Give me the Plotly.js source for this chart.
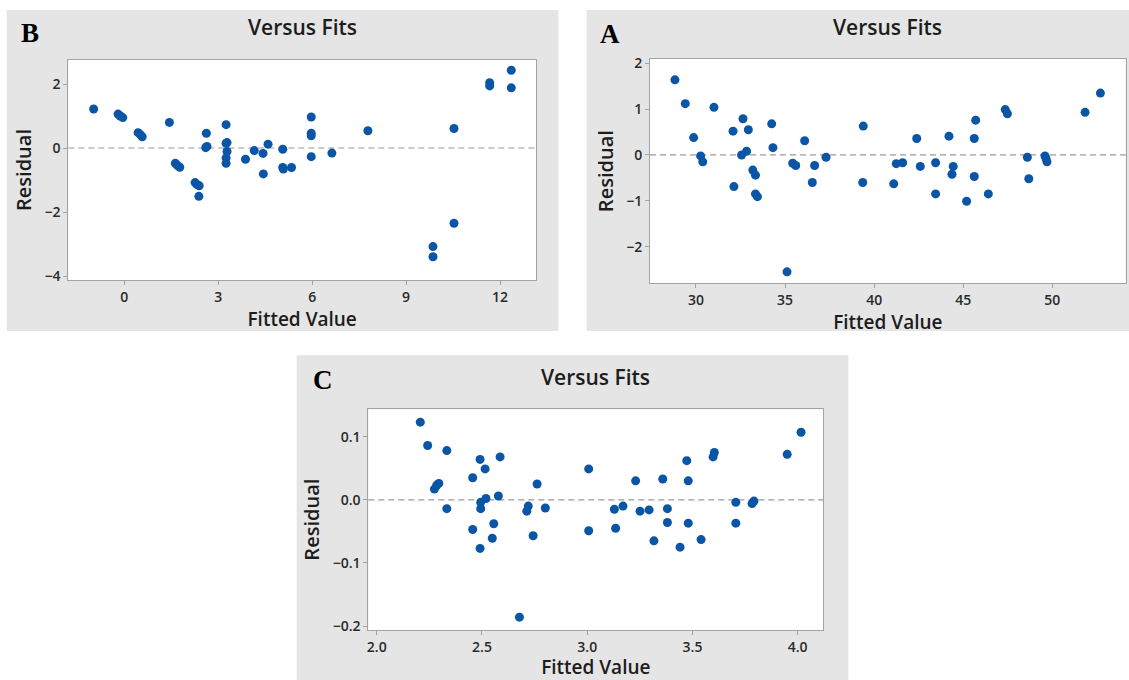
<!DOCTYPE html>
<html>
<head>
<meta charset="utf-8">
<script src="https://cdn.plot.ly/plotly-3.0.1.min.js"></script>
<style>
html,body{margin:0;padding:0;background:#ffffff;}
#chart{width:1129px;height:680px;}
</style>
</head>
<body>
<div id="chart"></div>
<script>
// ---- Panel B data ----
const bFitted = [-0.98, -0.20, -0.13, -0.05, 0.44, 0.51, 0.57, 1.44, 1.63, 1.70, 1.77,
  2.26, 2.32, 2.39, 2.38, 2.62, 2.60, 2.64, 3.25, 3.28, 3.25, 3.28, 3.25, 3.25,
  3.87, 4.15, 4.43, 4.59, 4.44, 5.06, 5.06, 5.08, 5.34, 5.97, 5.97, 5.97, 5.97,
  6.63, 7.78, 10.53, 10.53, 9.86, 9.86, 11.67, 11.67, 12.36, 12.36];
const bResidual = [1.22, 1.06, 1.00, 0.95, 0.48, 0.42, 0.35, 0.80, -0.48, -0.55, -0.60,
  -1.08, -1.14, -1.18, -1.51, 0.46, 0.01, 0.05, 0.73, 0.17, 0.15, -0.11, -0.31, -0.48,
  -0.35, -0.08, -0.17, 0.12, -0.81, -0.04, -0.61, -0.66, -0.61, 0.97, 0.46, 0.38, -0.27,
  -0.16, 0.54, 0.61, -2.35, -3.08, -3.40, 2.04, 1.94, 2.43, 1.88];
const bXTicks = [0, 3, 6, 9, 12];
const bYTicks = [-4, -2, 0, 2];

// ---- Panel A data ----
const aFitted = [28.82, 29.40, 31.01, 29.87, 30.26, 30.38, 32.08, 32.13, 32.64, 32.94,
  32.56, 32.84, 33.19, 33.34, 33.34, 33.45, 34.25, 34.32, 35.11, 35.43, 35.60, 36.10,
  36.53, 36.66, 37.30, 39.39, 39.36, 41.10, 41.24, 41.60, 42.39, 42.59, 43.45, 43.45,
  44.20, 44.44, 44.37, 45.19, 45.70, 45.62, 45.62, 46.41, 47.36, 47.48, 48.60, 48.68,
  49.59, 49.65, 49.70, 51.84, 52.70];
const aResidual = [1.64, 1.12, 1.04, 0.38, -0.02, -0.15, 0.52, -0.69, 0.79, 0.55,
  0.00, 0.08, -0.33, -0.44, -0.85, -0.91, 0.68, 0.16, -2.55, -0.18, -0.23, 0.31,
  -0.60, -0.23, -0.05, 0.63, -0.60, -0.63, -0.19, -0.17, 0.36, -0.25, -0.17, -0.85,
  0.41, -0.25, -0.42, -1.01, 0.76, 0.36, -0.47, -0.85, 0.99, 0.90, -0.05, -0.52,
  -0.02, -0.08, -0.15, 0.93, 1.35];
const aXTicks = [30, 35, 40, 45, 50];
const aYTicks = [-2, -1, 0, 1, 2];

// ---- Panel C data ----
const cFitted = [2.207, 2.242, 2.333, 2.274, 2.285, 2.295, 2.333, 2.456, 2.491, 2.515,
  2.586, 2.456, 2.491, 2.494, 2.494, 2.519, 2.578, 2.556, 2.549, 2.678, 2.720, 2.713,
  2.743, 2.762, 2.801, 3.007, 3.007, 3.129, 3.170, 3.135, 3.230, 3.251, 3.294, 3.317,
  3.359, 3.381, 3.381, 3.441, 3.473, 3.480, 3.480, 3.541, 3.598, 3.604, 3.706, 3.706,
  3.783, 3.792, 3.950, 4.016];
const cResidual = [0.123, 0.086, 0.078, 0.017, 0.023, 0.026, -0.014, 0.035, 0.064, 0.049,
  0.068, -0.047, -0.077, -0.004, -0.014, 0.002, 0.006, -0.038, -0.061, -0.186, -0.010, -0.018,
  -0.057, 0.025, -0.013, 0.049, -0.049, -0.015, -0.010, -0.045, 0.030, -0.018, -0.016, -0.065,
  0.033, -0.014, -0.036, -0.075, 0.062, 0.030, -0.037, -0.063, 0.068, 0.075, -0.004, -0.037,
  -0.006, -0.002, 0.072, 0.107];
const cXTicks = [2.0, 2.5, 3.0, 3.5, 4.0];
const cYTicks = [-0.2, -0.1, 0.0, 0.1];

const titleText = 'Versus Fits';
const xTitleText = 'Fitted Value';
const yTitleText = 'Residual';
const panelLetters = ['B', 'A', 'C'];

// ---- styling ----
const W = 1129, H = 680;
const dotColor = '#0a55a5';
const panelGray = '#e5e5e5';
const frameGray = '#a3a3a3';
const textColor = '#1c1c1c';
const sansFont = '"Open Sans", "Noto Sans", sans-serif';
const px = v => v / W;
const py = v => 1 - v / H;

function mkTrace(x, y, xa, ya) {
  return {x: x, y: y, xaxis: xa, yaxis: ya, type: 'scatter', mode: 'markers',
    marker: {color: dotColor, size: 9}, hoverinfo: 'x+y', showlegend: false};
}

const tickFont = {family: sansFont, size: 14, color: '#2a2a2a', weight: 600};
const axTitleFont = {family: sansFont, size: 19, color: textColor, weight: 600};

function mkX(domain, range, ticks, fmt, anchor) {
  return {domain: domain, range: range, anchor: anchor, tickvals: ticks, tickformat: fmt,
    showgrid: false, zeroline: false, showline: true, mirror: true, linecolor: frameGray,
    linewidth: 1, ticks: 'outside', ticklen: 4, tickcolor: frameGray,
    tickfont: tickFont,
    title: {text: xTitleText, standoff: 4, font: axTitleFont},
    fixedrange: true};
}
function mkY(domain, range, ticks, fmt, anchor) {
  return {domain: domain, range: range, anchor: anchor, tickvals: ticks, tickformat: fmt,
    showgrid: false, zeroline: false, showline: true, mirror: true, linecolor: frameGray,
    linewidth: 1, ticks: 'outside', ticklen: 4, tickcolor: frameGray,
    tickfont: tickFont,
    title: {text: yTitleText, standoff: 7, font: {family: sansFont, size: 20, color: textColor, weight: 600}},
    fixedrange: true};
}

const data = [
  mkTrace(bFitted, bResidual, 'x', 'y'),
  mkTrace(aFitted, aResidual, 'x2', 'y2'),
  mkTrace(cFitted, cResidual, 'x3', 'y3')
];

// plot-area boxes in pixels
const boxB = {l: 68.3, r: 536, t: 60, b: 280};
const boxA = {l: 650, r: 1125.7, t: 59, b: 283.3};
const boxC = {l: 368.3, r: 823.3, t: 409.3, b: 630};
// gray panels in pixels
const panB = {l: 6.7, r: 558.3, t: 10, b: 331};
const panA = {l: 586.7, r: 1129, t: 10, b: 331};
const panC = {l: 296.7, r: 848.3, t: 355.3, b: 680};

function dom(box) {
  return {x: [px(box.l), px(box.r)], y: [py(box.b), py(box.t)]};
}
const dB = dom(boxB), dA = dom(boxA), dC = dom(boxC);

function grayRect(p) {
  return {type: 'rect', xref: 'paper', yref: 'paper', x0: px(p.l), x1: px(p.r),
    y0: py(p.b), y1: py(p.t), fillcolor: panelGray, line: {width: 0}, layer: 'below'};
}
function whiteRect(xa, ya) {
  return {type: 'rect', xref: xa + ' domain', yref: ya + ' domain', x0: 0, x1: 1, y0: 0, y1: 1,
    fillcolor: '#ffffff', line: {width: 0}, layer: 'below'};
}
function zeroLine(xa, ya) {
  return {type: 'line', xref: xa + ' domain', yref: ya, x0: 0, x1: 1, y0: 0, y1: 0,
    line: {color: '#9a9a9a', width: 1.2, dash: '6px,4px'}, layer: 'below'};
}

function titleAnn(box, yPix) {
  return {text: titleText, xref: 'paper', yref: 'paper', x: px((box.l + box.r) / 2), y: py(yPix),
    xanchor: 'center', yanchor: 'middle', showarrow: false,
    font: {family: sansFont, size: 21, color: textColor, weight: 600}};
}
function letterAnn(t, xPix, yPix) {
  return {text: t, xref: 'paper', yref: 'paper', x: px(xPix), y: py(yPix),
    xanchor: 'center', yanchor: 'middle', showarrow: false,
    font: {family: '"Liberation Serif", "Times New Roman", serif', size: 27, color: '#000000', weight: 700}};
}

const layout = {
  width: W, height: H,
  margin: {l: 0, r: 0, t: 0, b: 0},
  paper_bgcolor: '#ffffff', plot_bgcolor: '#ffffff',
  showlegend: false,
  xaxis: mkX(dB.x, [-1.79, 13.15], bXTicks, 'd', 'y'),
  yaxis: mkY(dB.y, [-4.125, 2.75], bYTicks, 'd', 'x'),
  xaxis2: mkX(dA.x, [27.42, 54.12], aXTicks, 'd', 'y2'),
  yaxis2: mkY(dA.y, [-2.80, 2.094], aYTicks, 'd', 'x2'),
  xaxis3: mkX(dC.x, [1.96, 4.1216], cXTicks, '.1f', 'y3'),
  yaxis3: mkY(dC.y, [-0.2063, 0.1434], cYTicks, '.1f', 'x3'),
  shapes: [
    grayRect(panB), grayRect(panA), grayRect(panC),
    whiteRect('x', 'y'), whiteRect('x2', 'y2'), whiteRect('x3', 'y3'),
    zeroLine('x', 'y'), zeroLine('x2', 'y2'), zeroLine('x3', 'y3')
  ],
  annotations: [
    titleAnn(boxB, 27), titleAnn(boxA, 27), titleAnn(boxC, 377),
    letterAnn(panelLetters[0], 30, 33), letterAnn(panelLetters[1], 610, 34), letterAnn(panelLetters[2], 323, 380)
  ]
};

Plotly.newPlot('chart', data, layout, {displayModeBar: false, staticPlot: true});
</script>
</body>
</html>
